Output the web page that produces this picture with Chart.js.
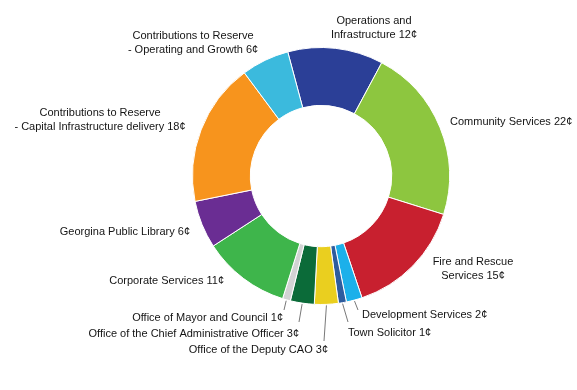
<!DOCTYPE html>
<html>
<head>
<meta charset="utf-8">
<script src="https://cdn.jsdelivr.net/npm/chart.js@4/dist/chart.umd.min.js"></script>
<style>
	html, body { margin: 0; padding: 0; background: #fff; }
	#wrap { width: 577px; height: 390px; }
</style>
</head>
<body>
<div id="wrap"><canvas id="chart" width="577" height="390"></canvas></div>
<script>
// budget split, cents of every tax dollar (clockwise from the top)
let names = [
	"Operations and\nInfrastructure",
	"Community Services",
	"Fire and Rescue\nServices",
	"Development Services",
	"Town Solicitor",
	"Office of the Deputy CAO",
	"Office of the Chief Administrative Officer",
	"Office of Mayor and Council",
	"Corporate Services",
	"Georgina Public Library",
	"Contributions to Reserve\n- Capital Infrastructure delivery",
	"Contributions to Reserve\n- Operating and Growth"
];
let cents = [12, 22, 15, 2, 1, 3, 3, 1, 11, 6, 18, 6];
let colors = [
	"#2b3f97", "#8dc63f", "#c8202f", "#1cb0ea", "#2e5c9e", "#eacf1f",
	"#0b6b39", "#d2d3d4", "#3eb54b", "#6a2d93", "#f7941d", "#3bbadd"
];

// where each label sits: x, y of first line, alignment, leader line end (or null)
let labelPos = [
	[374, 21, "center", null],
	[450, 122, "left", null],
	[473, 262, "center", null],
	[362, 315, "left", [358, 310]],
	[348, 333, "left", [348, 322]],
	[328, 350, "right", [324, 341]],
	[299, 334, "right", [299, 322]],
	[283, 318, "right", [284, 310]],
	[224, 281, "right", null],
	[190, 232, "right", null],
	[100, 113, "center", null],
	[193, 36, "center", null]
];

let labelPlugin = {
	id: "labels",
	afterDraw(chart) {
		let ctx = chart.ctx;
		let meta = chart.getDatasetMeta(0);
		ctx.save();
		ctx.font = "11px 'Liberation Sans', Arial, sans-serif";
		ctx.fillStyle = "#141414";
		ctx.textBaseline = "middle";
		meta.data.forEach((arc, i) => {
			let p = labelPos[i];
			let lines = (names[i] + " " + cents[i] + "¢").split("\n");
			ctx.textAlign = p[2];
			lines.forEach((ln, k) => ctx.fillText(ln, p[0], p[1] + k * 13.5));
			if (p[3]) {
				let mid = (arc.startAngle + arc.endAngle) / 2;
				let r = arc.outerRadius + 1;
				ctx.beginPath();
				ctx.moveTo(arc.x + Math.cos(mid) * r, arc.y + Math.sin(mid) * r);
				ctx.lineTo(p[3][0], p[3][1]);
				ctx.strokeStyle = "#555";
				ctx.lineWidth = 0.8;
				ctx.stroke();
			}
		});
		ctx.restore();
	}
};

new Chart(document.getElementById("chart").getContext("2d"), {
	type: "doughnut",
	data: {
		labels: names,
		datasets: [{
			data: cents,
			backgroundColor: colors,
			borderColor: "#fff",
			borderWidth: 1
		}]
	},
	options: {
		responsive: false,
		animation: false,
		rotation: -15,
		cutout: "55%",
		layout: {
			padding: { left: 192, right: 127, top: 47, bottom: 85 }
		},
		plugins: {
			legend: { display: false },
			tooltip: { enabled: false }
		}
	},
	plugins: [labelPlugin]
});
</script>
</body>
</html>
